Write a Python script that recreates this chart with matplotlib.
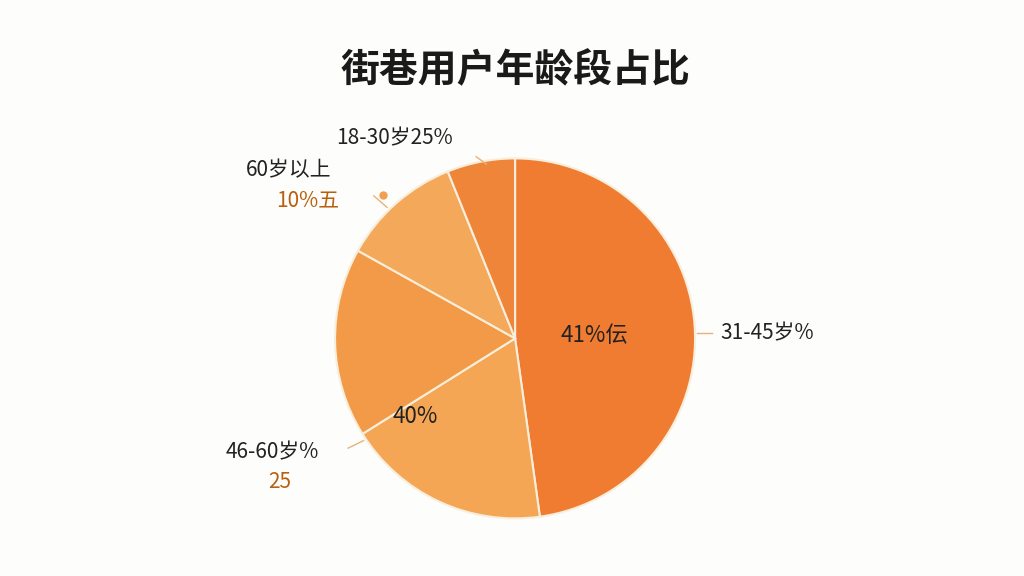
import matplotlib
matplotlib.use("Agg")
import matplotlib.pyplot as plt

plt.rcParams['font.family'] = ['Noto Sans CJK SC', 'DejaVu Sans']

categories = ["31-45岁", "46-60岁a", "46-60岁b", "60岁以上", "18-30岁"]
values = [47.8, 18.3, 17.0, 10.8, 6.1]
colors = ["#F07C32", "#F5A654", "#F29A47", "#F4A859", "#EE8538"]

fig = plt.figure(figsize=(10.24, 5.76), dpi=100)
fig.patch.set_facecolor("#FDFDFB")
ax = fig.add_axes([0.327, 0.1, 0.352, 0.625])
ax.pie(values, colors=colors, startangle=90, counterclock=False,
       wedgeprops=dict(edgecolor="#F8EEDC", linewidth=1.5))
ax.set_xlim(-1, 1); ax.set_ylim(-1, 1)

fig.text(0.503, 0.878, "街巷用户年龄段占比", ha="center", va="center", fontsize=28, fontweight="bold", color="#1a1a1a")

fig.text(0.58, 0.418, "41%伝", ha="center", va="center", fontsize=16, color="#222")
fig.text(0.405, 0.277, "40%", ha="center", va="center", fontsize=16, color="#222")
fig.text(0.703, 0.422, "31-45岁%", ha="left", va="center", fontsize=15, color="#222")
fig.text(0.328, 0.76, "18-30岁25%", ha="left", va="center", fontsize=15, color="#222")
fig.text(0.24, 0.705, "60岁以上", ha="left", va="center", fontsize=15, color="#222")
fig.text(0.27, 0.652, "10%五", ha="left", va="center", fontsize=15, color="#B8600F")
fig.text(0.22, 0.215, "46-60岁%", ha="left", va="center", fontsize=15, color="#222")
fig.text(0.262, 0.163, "25", ha="left", va="center", fontsize=15, color="#B8600F")

lc = "#E8B27A"
fig.add_artist(plt.Line2D([0.465, 0.475], [0.728, 0.715], color=lc, lw=1))
fig.add_artist(plt.Line2D([0.365, 0.378], [0.66, 0.64], color=lc, lw=1))
fig.add_artist(plt.Line2D([0.681, 0.695], [0.422, 0.422], color=lc, lw=1))
fig.add_artist(plt.Line2D([0.34, 0.355], [0.222, 0.235], color=lc, lw=1))
fig.add_artist(plt.Line2D([0.374], [0.662], marker="o", color="#F0A050", markersize=5))

fig.savefig("out.png", dpi=100, facecolor=fig.get_facecolor())
